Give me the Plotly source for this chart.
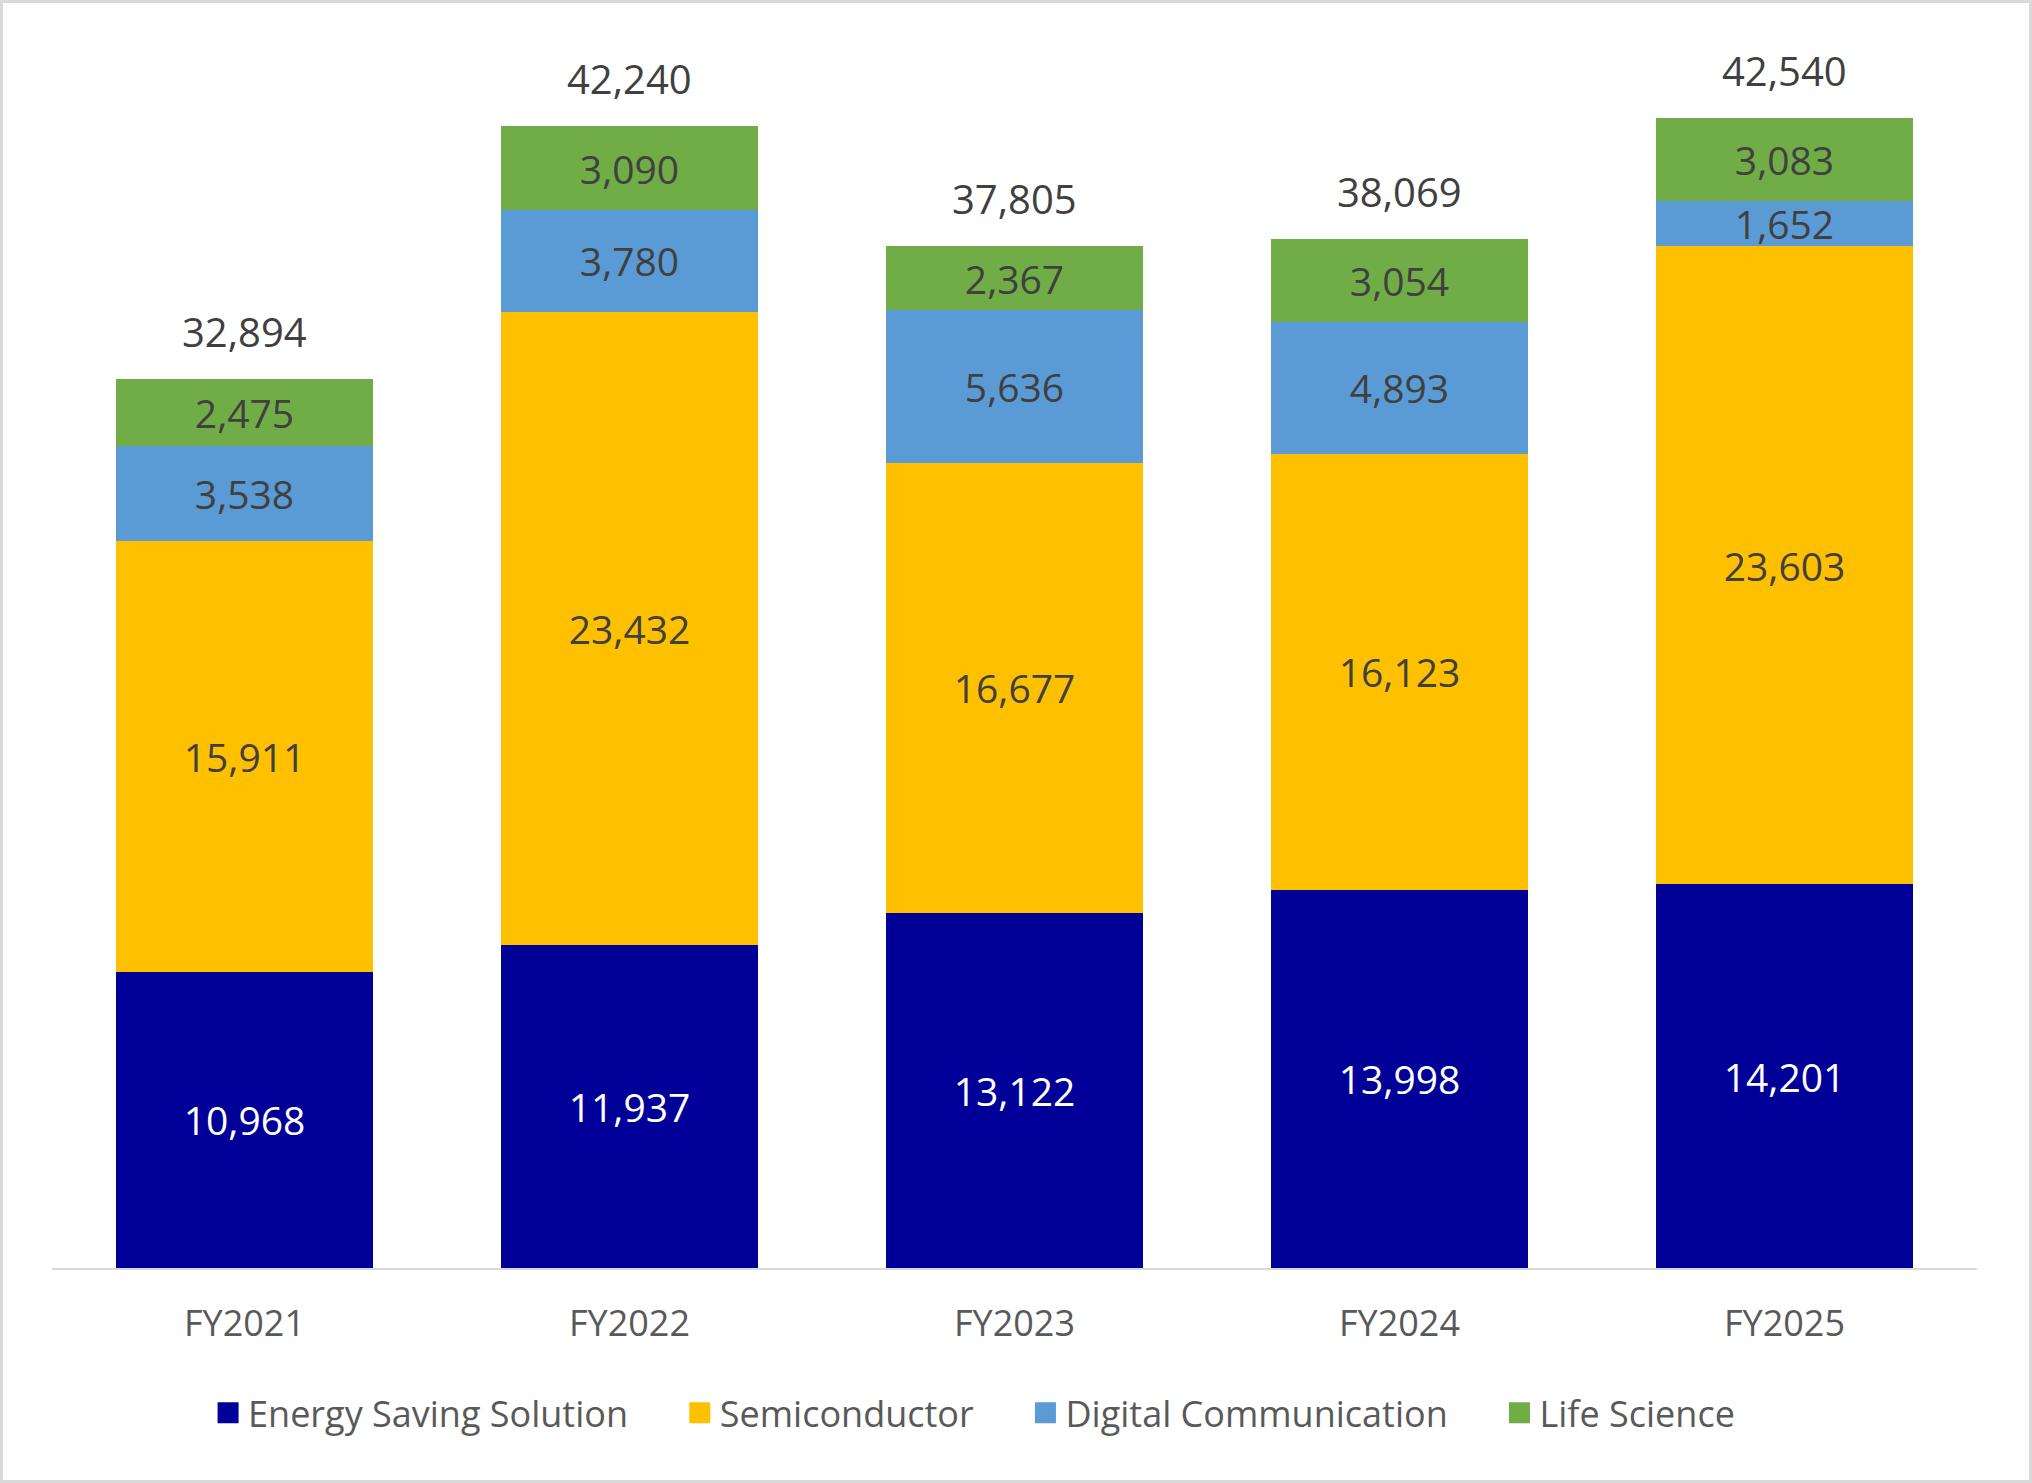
import plotly.graph_objects as go

categories = ["FY2021", "FY2022", "FY2023", "FY2024", "FY2025"]
energy = [10968, 11937, 13122, 13998, 14201]
semiconductor = [15911, 23432, 16677, 16123, 23603]
digital = [3538, 3780, 5636, 4893, 1652]
life = [2475, 3090, 2367, 3054, 3083]
totals = [32894, 42240, 37805, 38069, 42540]

series = [
    ("Energy Saving Solution", energy, "#000099", "#FFFFFF"),
    ("Semiconductor", semiconductor, "#FFC000", "#404040"),
    ("Digital Communication", digital, "#5B9BD5", "#404040"),
    ("Life Science", life, "#70AD47", "#404040"),
]

W, H = 2032, 1483
ML, MR, MT, MB = 52, 55, 60, 215
FONT = "Open Sans"
LABEL_SIZE = 39
PAD = "\u00a0" * 5

fig = go.Figure()
for name, vals, color, tcolor in series:
    fig.add_trace(go.Bar(
        name=name, x=categories, y=vals,
        marker=dict(color=color, line=dict(width=0)),
        text=[f"{v:,}" for v in vals],
        textposition="inside", insidetextanchor="middle", textangle=0,
        textfont=dict(family=FONT, size=LABEL_SIZE, color=tcolor),
        constraintext="none", showlegend=False,
    ))

# legend entries (square swatches)
for i, (name, vals, color, tcolor) in enumerate(series):
    label = name + (PAD if i < len(series) - 1 else "")
    fig.add_trace(go.Scatter(
        x=[None], y=[None], mode="markers", name=label,
        marker=dict(symbol="square", size=16, color=color,
                    line=dict(color=color, width=5)),
        showlegend=True, hoverinfo="skip",
    ))

for c, t in zip(categories, totals):
    fig.add_annotation(x=c, y=t, text=f"{t:,}", showarrow=False,
                       yanchor="bottom", yshift=18,
                       font=dict(family=FONT, size=40, color="#404040"))

pw = W - ML - MR
ph = H - MT - MB
fig.add_shape(type="rect", xref="paper", yref="paper",
              x0=-(ML - 1.5) / pw, x1=1 + (MR - 1.5) / pw,
              y0=-(MB - 1.5) / ph, y1=1 + (MT - 1.5) / ph,
              line=dict(color="#D9D9D9", width=3))

fig.update_layout(
    width=W, height=H,
    margin=dict(l=ML, r=MR, t=MT, b=MB),
    barmode="stack", bargap=0.333,
    plot_bgcolor="white", paper_bgcolor="white",
    uniformtext=dict(mode="show", minsize=LABEL_SIZE),
    font=dict(family=FONT, color="#595959"),
    showlegend=True,
    legend=dict(orientation="h", x=0.479, xanchor="center", y=-0.12, yanchor="middle",
                font=dict(family=FONT, size=36, color="#595959"),
                itemsizing="trace", traceorder="normal"),
    xaxis=dict(showline=True, linecolor="#D9D9D9", linewidth=2,
               ticks="outside", ticklen=23, tickcolor="rgba(0,0,0,0)",
               tickfont=dict(family=FONT, size=36, color="#595959"),
               showgrid=False),
    yaxis=dict(range=[0, 44690], visible=False, showgrid=False),
)

fig.write_html("out.html")
